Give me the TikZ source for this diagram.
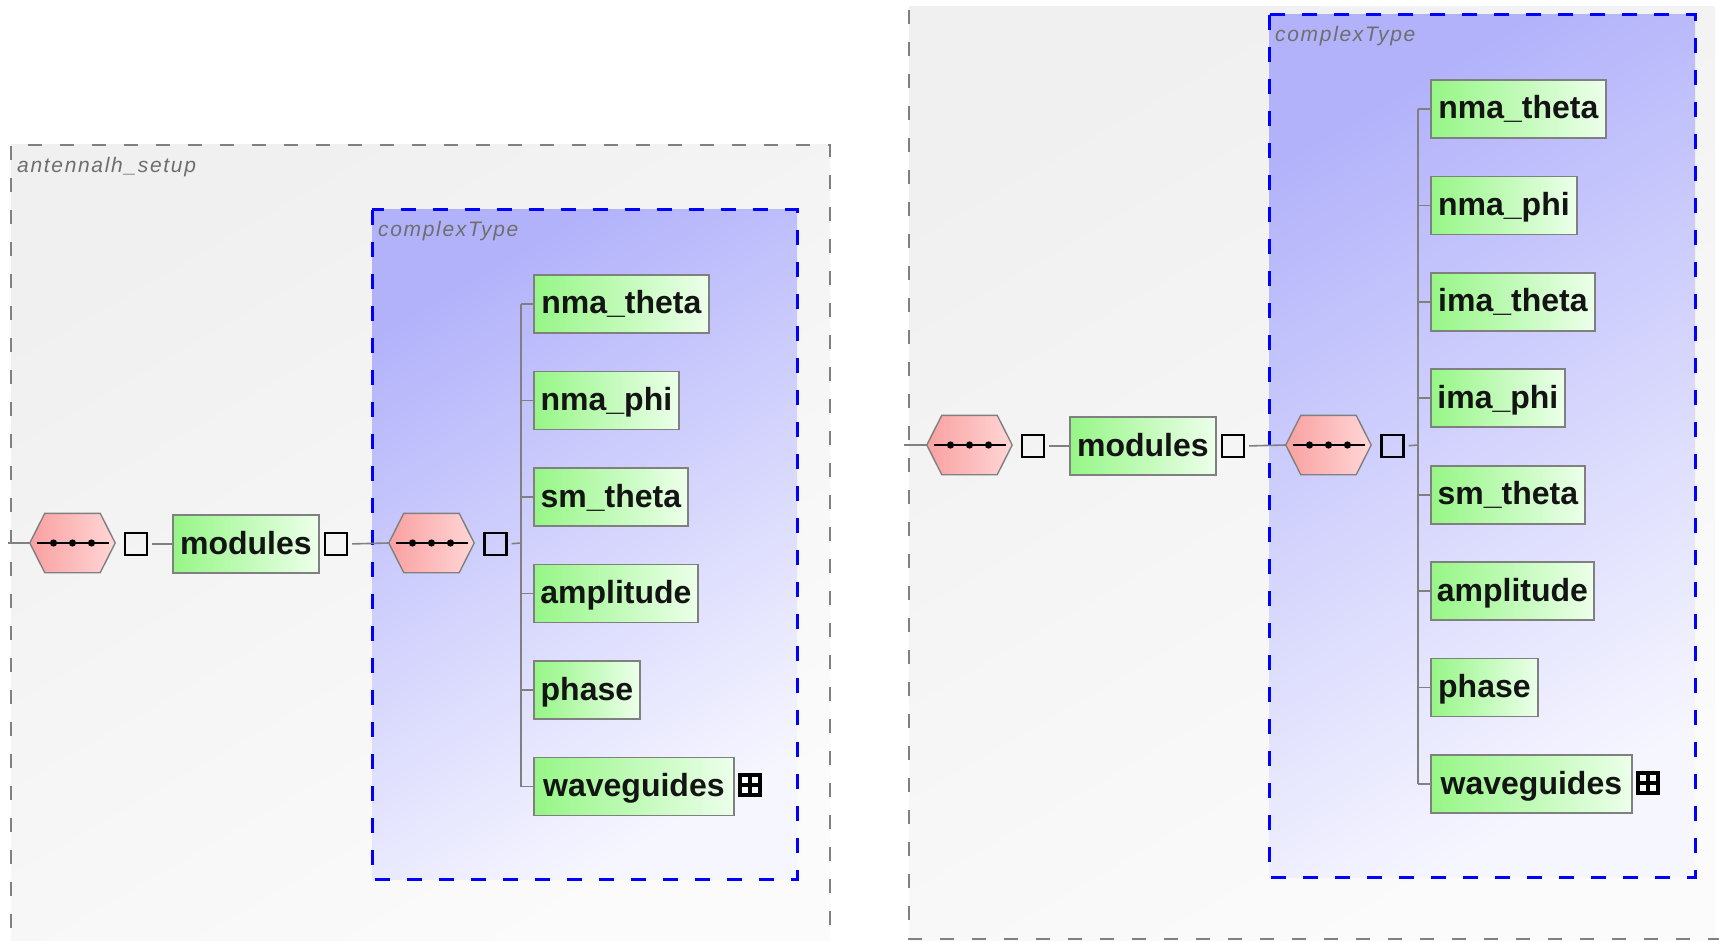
\documentclass[tikz,border=0pt]{standalone}
\usepackage{fontspec}
\setmainfont{Liberation Sans}

\definecolor{lineGray}{RGB}{128,128,128}
\definecolor{outerGray}{RGB}{128,128,128}
\definecolor{elemL}{RGB}{150,246,134}
\definecolor{elemR}{RGB}{236,255,234}
\definecolor{hexL}{RGB}{250,160,160}
\definecolor{hexR}{RGB}{255,214,214}
\definecolor{typeTL}{RGB}{178,178,251}
\definecolor{typeBR}{RGB}{246,246,255}
\definecolor{bgTL}{RGB}{240,240,240}
\definecolor{bgBR}{RGB}{251,251,251}
\definecolor{labelGray}{RGB}{110,110,110}
\definecolor{textDark}{RGB}{20,20,20}
\definecolor{typeBlue}{RGB}{0,0,255}

\tikzset{
  conn/.style={draw=lineGray, line width=1.6pt},
  elem/.style={draw=lineGray, line width=1.8pt, left color=elemL, right color=elemR,
    minimum height=58pt, inner xsep=0pt, inner ysep=0pt, anchor=west,
    font=\fontsize{32}{36}\selectfont\bfseries, text=textDark,
    text height=23pt, text depth=3pt},
  occ/.style={draw=black, line width=2.4pt, minimum size=22pt, inner sep=0pt},
  hexbox/.style={minimum width=85pt, minimum height=59pt, inner sep=0pt},
  hexfill/.style={draw=lineGray, line width=1.4pt, left color=hexL, right color=hexR},
  outerfill/.style={top color=bgTL, bottom color=bgBR, shading angle=30},
  typefill/.style={top color=typeTL, bottom color=typeBR, shading angle=30},
  outerbox/.style={draw=outerGray, line width=2.4pt, dash pattern=on 14pt off 18pt},
  typebox/.style={draw=typeBlue, line width=3pt, dash pattern=on 15pt off 17pt},
  boxlabel/.style={anchor=base west, inner sep=0pt, text=labelGray,
    font=\fontsize{21}{24}\selectfont\itshape\addfontfeature{LetterSpace=8}},
  iconbox/.style={fill=black, minimum size=24pt, inner sep=0pt}
}

% sequence compositor: pointed hexagon with a dotted bar
\newcommand\seqhex[2]{%
  \node[hexbox] (#1) at #2 {};
  \path[hexfill] (#1.west) -- ([xshift=15pt]#1.north west) -- ([xshift=-15pt]#1.north east)
    -- (#1.east) -- ([xshift=-15pt]#1.south east) -- ([xshift=15pt]#1.south west) -- cycle;
  \draw[line width=2.4pt] ([xshift=-36pt]#1.center) -- ([xshift=36pt]#1.center);
  \foreach \d in {-19,0,19} \fill ([xshift=\d pt]#1.center) circle[radius=3.6pt];
}

% expand marker: black square with four white cells
\newcommand\expandicon[2]{%
  \node[iconbox] (#1) at #2 {};
  \foreach \a/\b in {4/4,14/4,4/14,14/14}
    \fill[white] ([shift={(\a pt,\b pt)}]#1.south west) rectangle ++(6pt,6pt);
}

\begin{document}
\begin{tikzpicture}[x=1pt,y=-1pt]
\useasboundingbox (0,0) rectangle (1719,941);
\clip (0,0) rectangle (1719,941);
\fill[white] (0,0) rectangle (1719,941);

% ---------------- left: antennalh_setup ----------------
\path[outerfill] (11,145) rectangle (830,960);
\draw[outerbox] (11,960) -- (11,145) -- (830,145) -- (830,960);
\node[boxlabel] (Lname) at (17,173) {antennalh\_setup};

\path[typefill] (372,210) rectangle (797,879);
\draw[typebox] (372,210) rectangle (797,879);
\node[boxlabel] (Ltype) at (378,237) {complexType};

\coordinate (Lin) at (8,543);
\seqhex{Lseq}{(72.5,543)}
\node[occ] (Lo1) at (136,544) {};
\node[elem, minimum width=146pt] (Lmod) at (172,544) {modules};
\node[occ] (Lo2) at (336,544) {};
\seqhex{Lseq2}{(431.5,543)}
\node[occ] (Lo3) at (495.5,544) {};
\coordinate (Ltrunk) at (521,543);

\draw[conn] (Lin) -- (Lseq.west);
\draw[conn, shorten <=4pt] (Lo1.east) -- (Lmod.west);
\draw[conn, shorten <=4pt] (Lo2.east) -- (Lseq2.west);
\draw[conn, shorten <=4pt] (Lo3.east) -- (Ltrunk);

\foreach \n/\w [count=\i] in {nma\_theta/175, nma\_phi/145, sm\_theta/154,
    amplitude/164, phase/106, waveguides/200}
  \node[elem, minimum width=\w pt] (L-\i) at (533,{304+96.5*(\i-1)}) {\n};
\draw[conn] (L-1.west -| Ltrunk) -- (L-6.west -| Ltrunk);
\foreach \i in {1,...,6}
  \draw[conn] (L-\i.west -| Ltrunk) -- (L-\i.west);
\expandicon{Lexp}{(750,785)}

% ---------------- right ----------------
\path[outerfill] (909,7) rectangle (1715,941);
\draw[outerbox] (909,10) -- (909,939) -- (1719,939);

\path[typefill] (1269,15) rectangle (1695,877);
\draw[typebox] (1269,15) rectangle (1695,877);
\node[boxlabel] (Rtype) at (1275,42) {complexType};

\coordinate (Rin) at (904,445);
\seqhex{Rseq}{(969.5,445)}
\node[occ] (Ro1) at (1033,446) {};
\node[elem, minimum width=146pt] (Rmod) at (1069,446) {modules};
\node[occ] (Ro2) at (1233,446) {};
\seqhex{Rseq2}{(1328.5,445)}
\node[occ] (Ro3) at (1392.5,446) {};
\coordinate (Rtrunk) at (1418,445);

\draw[conn] (Rin) -- (Rseq.west);
\draw[conn, shorten <=4pt] (Ro1.east) -- (Rmod.west);
\draw[conn, shorten <=4pt] (Ro2.east) -- (Rseq2.west);
\draw[conn, shorten <=4pt] (Ro3.east) -- (Rtrunk);

\foreach \n/\w [count=\i] in {nma\_theta/175, nma\_phi/146, ima\_theta/164,
    ima\_phi/134, sm\_theta/154, amplitude/163, phase/107, waveguides/201}
  \node[elem, minimum width=\w pt] (R-\i) at (1430,{109+96.43*(\i-1)}) {\n};
\draw[conn] (R-1.west -| Rtrunk) -- (R-8.west -| Rtrunk);
\foreach \i in {1,...,8}
  \draw[conn] (R-\i.west -| Rtrunk) -- (R-\i.west);
\expandicon{Rexp}{(1648,783)}
\end{tikzpicture}
\end{document}
